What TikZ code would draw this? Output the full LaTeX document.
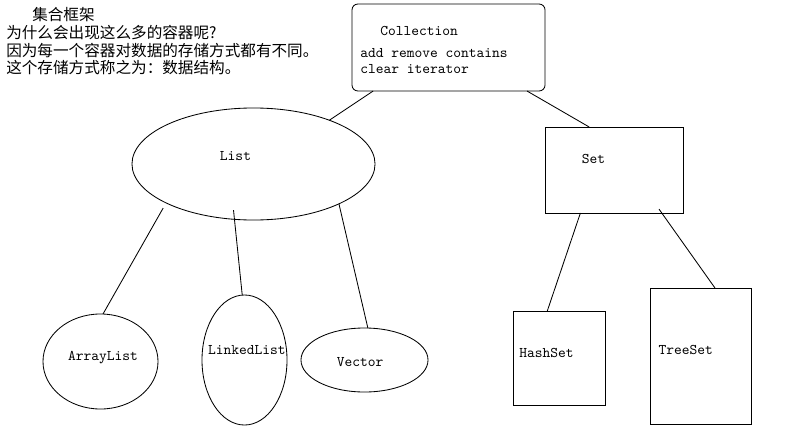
\documentclass[tikz,border=0pt]{standalone}
\usepackage{fontspec}
\newfontfamily\cjk{Noto Sans CJK SC}
\usetikzlibrary{shapes.geometric}

\begin{document}
\begin{tikzpicture}[x=0.025cm,y=-0.025cm]
                \tikzset{LabelStyle/.style={font=\ttfamily\fontsize{10.5pt}{12pt}\selectfont, inner sep=0pt}}
                \tikzset{NoteStyle/.style={font=\cjk\fontsize{11.1pt}{12pt}\selectfont, anchor=west, inner sep=0pt}}
                \tikzset{OvalStyle/.style={draw, ellipse, inner sep=0pt, outer sep=0pt, line width=0.6pt}}
                \tikzset{BoxStyle/.style={draw, rectangle, inner sep=0pt, outer sep=0pt, line width=0.6pt}}
                \tikzset{EdgeStyle/.style={line width=0.6pt}}
                \useasboundingbox (0,0) rectangle (800,427);
                \node[NoteStyle] (Title) at (32,14.5) {集合框架};
                \node[NoteStyle] (Why) at (6,33) {为什么会出现这么多的容器呢?};
                \node[NoteStyle] (Because) at (6,51) {因为每一个容器对数据的存储方式都有不同。};
                \node[NoteStyle] (Called) at (6,67.5) {这个存储方式称之为：数据结构。};
                \node[BoxStyle, rounded corners=0.15cm, minimum width=4.825cm, minimum height=2.175cm] (Coll) at (448.5,47.5) {};
                \node[LabelStyle, anchor=west] (CollName) at (380,31) {Collection};
                \node[LabelStyle, anchor=west] (CollOps1) at (360,53) {add remove contains};
                \node[LabelStyle, anchor=west] (CollOps2) at (360,69) {clear iterator};
                \node[OvalStyle, minimum width=6.075cm, minimum height=2.8cm,
                      label={[LabelStyle, xshift=-0.45cm, yshift=0.2cm]center:List}] (List) at (253.5,164) {};
                \node[BoxStyle, minimum width=3.45cm, minimum height=2.15cm,
                      label={[LabelStyle, xshift=-0.51cm, yshift=0.28cm]center:Set}] (Set) at (614,170) {};
                \node[OvalStyle, minimum width=2.875cm, minimum height=2.375cm,
                      label={[LabelStyle, xshift=0.06cm, yshift=0.11cm]center:ArrayList}] (AL) at (100.5,361.5) {};
                \node[OvalStyle, minimum width=2.125cm, minimum height=3.25cm,
                      label={[LabelStyle, xshift=0.06cm, yshift=0.25cm]center:LinkedList}] (LL) at (244.5,360) {};
                \node[OvalStyle, minimum width=3.175cm, minimum height=1.6cm,
                      label={[LabelStyle, xshift=-0.11cm, yshift=-0.05cm]center:Vector}] (Vec) at (364.5,360) {};
                \node[BoxStyle, minimum width=2.3cm, minimum height=2.35cm,
                      label={[LabelStyle, xshift=-0.31cm, yshift=0.12cm]center:HashSet}] (HS) at (559,358) {};
                \node[BoxStyle, minimum width=2.525cm, minimum height=3.4cm,
                      label={[LabelStyle, xshift=-0.37cm, yshift=0.15cm]center:TreeSet}] (TS) at (700.5,356) {};
                \draw[EdgeStyle] (Coll.210) -- (List.30);
                \draw[EdgeStyle] (Coll.331) -- (Set.120);
                \draw[EdgeStyle, shorten <=0.15cm] (List.204) -- (AL.87);
                \draw[EdgeStyle, shorten <=-0.23cm] (List.251) -- (LL.92);
                \draw[EdgeStyle] (List.335) -- (Vec.84);
                \draw[EdgeStyle] (Set.232) -- (HS.104);
                \draw[EdgeStyle, shorten <=-0.12cm] (Set.318) -- (TS.78);
\end{tikzpicture}
\end{document}
